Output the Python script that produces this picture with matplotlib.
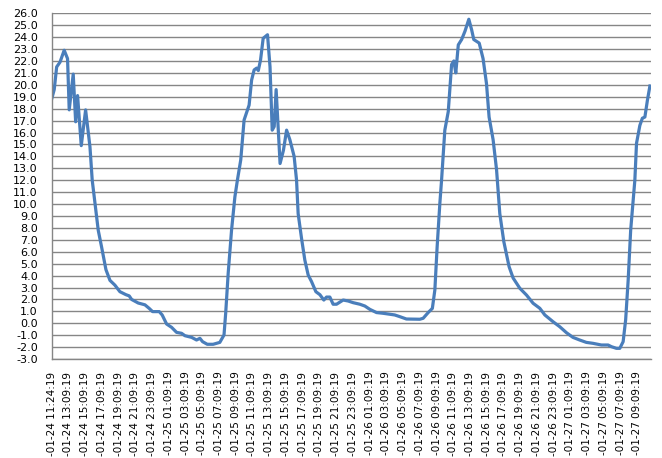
import matplotlib
matplotlib.use('Agg')
import numpy as np
import matplotlib.pyplot as plt

# hours since first sample (01-24 11:24:19) and temperature
hours = [0.0, 0.31, 0.6, 1.0, 1.5, 1.9, 2.1, 2.58, 2.87, 3.1, 3.54, 4.06, 4.58,
         4.85, 5.17, 5.57, 5.97, 6.49, 6.97, 7.56, 8.16, 8.88, 9.27, 9.56,
         10.35, 11.15, 11.66, 12.06, 12.86, 13.21, 13.74, 14.34, 14.93, 15.53,
         15.93, 16.73, 17.32, 17.72, 18.04, 18.6, 19.3, 19.7, 20.1, 20.6, 20.8,
         21.1, 21.5, 21.9, 22.2, 22.6, 23.0, 23.6, 23.9, 24.2, 24.5, 24.7,
         24.97, 25.28, 25.8, 26.1, 26.36, 26.6, 26.83, 27.3, 27.7, 28.08,
         28.47, 28.98, 29.27, 29.46, 29.87, 30.26, 30.66, 31.06, 31.58, 32.06,
         32.53, 32.85, 33.25, 33.64, 34.05, 34.84, 35.44, 36.03, 36.83, 37.43,
         38.03, 38.83, 39.62, 40.42, 41.0, 41.6, 42.4, 44.0, 44.4, 45.0, 45.5,
         45.8, 46.07, 46.4, 46.6, 46.99, 47.4, 47.8, 48.07, 48.3, 48.6, 49.0,
         49.4, 49.86, 50.2, 50.45, 51.1, 51.56, 51.97, 52.28, 52.76, 53.17,
         53.56, 54.04, 54.67, 55.15, 55.95, 56.75, 57.54, 58.34, 58.94, 59.93,
         60.73, 61.53, 62.3, 63.1, 63.9, 64.7, 65.7, 66.5, 66.9, 67.5, 67.9,
         68.3, 68.6, 68.9, 69.2, 69.7, 69.9, 70.3, 70.6, 70.9, 71.2, 71.5]
temps = [18.8, 19.6, 21.5, 21.9, 22.9, 22.2, 17.9, 20.9, 16.9, 19.1, 14.9, 17.9, 14.8,
         12.0, 10.1, 7.8, 6.4, 4.5, 3.6, 3.2, 2.65, 2.4, 2.3, 2.0,
         1.7, 1.55, 1.25, 0.98, 0.98, 0.7, -0.06, -0.34, -0.76, -0.84,
         -1.04, -1.18, -1.4, -1.26, -1.54, -1.76, -1.76, -1.68, -1.6, -0.98, 0.84,
         4.2, 7.8, 10.6, 12.0, 13.7, 17.05, 18.3, 20.4, 21.25, 21.4, 21.2,
         22.1, 23.9, 24.2, 21.5, 16.2, 16.5, 19.6, 13.4, 14.5, 16.2,
         15.4, 14.0, 12.0, 9.2, 7.1, 5.3, 4.05, 3.5, 2.65, 2.4,
         1.95, 2.2, 2.2, 1.6, 1.6, 1.95, 1.87, 1.73, 1.6, 1.45,
         1.17, 0.9, 0.84, 0.76, 0.7, 0.56, 0.36, 0.34, 0.42, 0.9, 1.25,
         2.8, 6.4, 10.1, 12.0, 16.2, 17.75, 21.7, 22.0, 21.0, 23.35, 23.8,
         24.5, 25.5, 24.6, 23.8, 23.5, 22.2, 20.1, 17.3, 15.4, 12.9,
         9.2, 6.85, 4.75, 3.8, 2.94, 2.37, 1.68, 1.26, 0.7, 0.13,
         -0.29, -0.79, -1.18, -1.4, -1.6, -1.68, -1.82, -1.82, -1.96, -2.1, -2.1,
         -1.54, 0.28, 3.6, 7.8, 12.0, 15.1, 16.6, 17.2, 17.3, 18.7, 19.9]

# category labels every 2 hours
label_days = ['24'] * 7 + ['25'] * 12 + ['26'] * 12 + ['27'] * 5
label_times = ['11:24:19'] + ['%02d:09:19' % h for h in [13, 15, 17, 19, 21, 23]] \
    + ['%02d:09:19' % h for h in range(1, 24, 2)] * 2 \
    + ['%02d:09:19' % h for h in [1, 3, 5, 7, 9]]
tick_labels = ['-01-%s %s' % (d, t) for d, t in zip(label_days, label_times)]

fig = plt.figure(figsize=(6.62, 4.58), dpi=100)
ax = fig.add_axes([0.078, 0.216, 0.905, 0.755])

ax.plot(hours, temps, color='#4A7EBB', linewidth=2.3, solid_joinstyle='round')

ax.set_xlim(0, 71.6)
ax.set_ylim(-3, 26)
ax.set_yticks(np.arange(-3, 27, 1))
ax.set_yticklabels(['%.1f' % v for v in np.arange(-3, 27, 1)], fontsize=8)
ax.set_xticks(np.arange(len(tick_labels)) * 2)
ax.set_xticklabels(tick_labels, rotation=90, fontsize=7.5, va='top', ha='center')

ax.grid(True, axis='y', color='#868686', linewidth=1)
ax.tick_params(axis='both', length=0, colors='black')
ax.tick_params(axis='y', pad=10)
ax.tick_params(axis='x', pad=9)
for s in ['top', 'right']:
    ax.spines[s].set_visible(False)
for s in ['left', 'bottom']:
    ax.spines[s].set_color('#868686')
    ax.spines[s].set_linewidth(1)

plt.savefig('out.png', dpi=100)
